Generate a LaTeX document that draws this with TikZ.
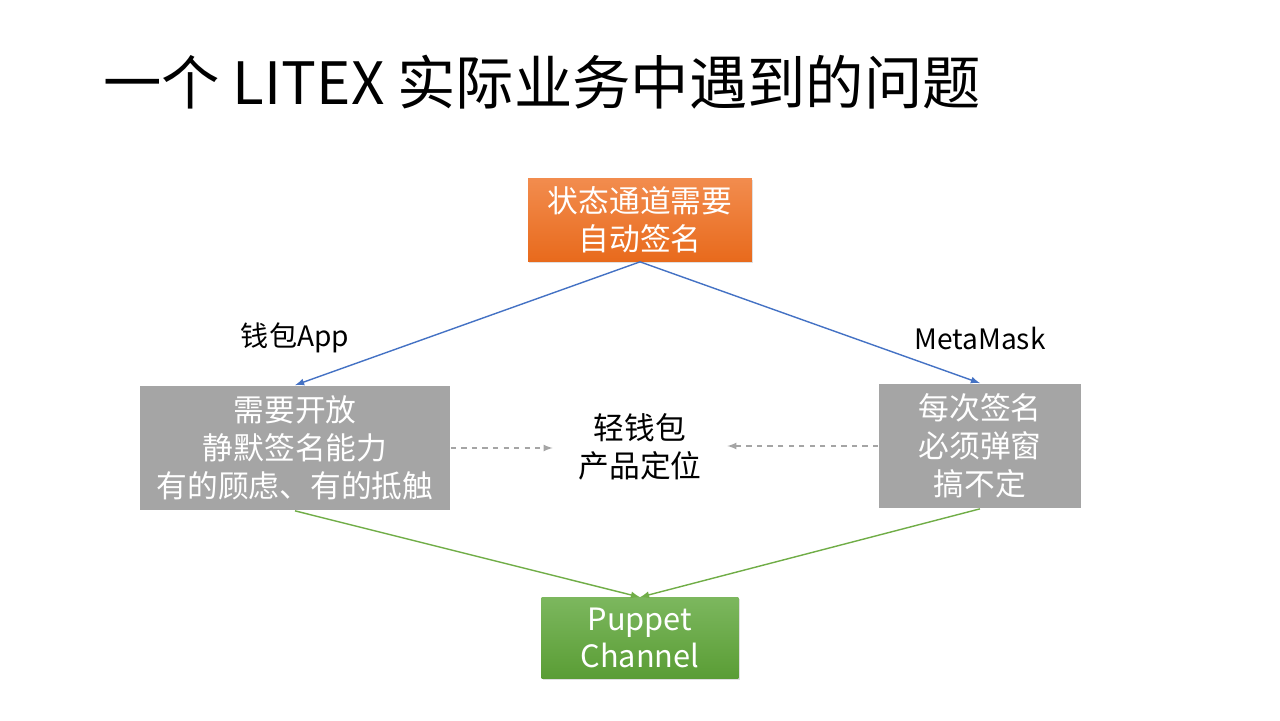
\documentclass[tikz,border=0pt]{standalone}
\usepackage{fontspec}
\setmainfont{Noto Sans CJK SC}
\usepackage{tikz}
\usetikzlibrary{arrows, calc, shadows}

\definecolor{orangeTop}{HTML}{F28C4E}
\definecolor{orangeBot}{HTML}{E86A1C}
\definecolor{greenTop}{HTML}{7CB75E}
\definecolor{greenBot}{HTML}{5A9D35}
\definecolor{boxGray}{HTML}{A5A5A5}
\definecolor{lineBlue}{HTML}{4472C4}
\definecolor{lineGreen}{HTML}{70AD47}

\tikzset{
  boxtext/.style={align=center, text=white, font=\fontsize{17.5pt}{21.5pt}\selectfont},
  graybox/.style={boxtext, fill=boxGray, inner sep=0pt},
  colorbox/.style={boxtext, inner sep=0pt, drop shadow={opacity=0.25, shadow xshift=0.6pt, shadow yshift=-0.8pt}},
  label/.style={font=\fontsize{16pt}{20pt}\selectfont}
}

\begin{document}
\begin{tikzpicture}[x=0.02cm, y=-0.02cm]

%% page
\useasboundingbox (0,0) rectangle (1280,720);

%% Title
\node[anchor=west, font=\fontsize{33.2pt}{38pt}\selectfont] (title) at (97, 82) {一个 LITEX 实际业务中遇到的问题};

%% boxes
\node[colorbox, top color=orangeTop, bottom color=orangeBot, minimum width=4.48cm, minimum height=1.66cm] (auto) at (640, 220) {状态通道需要\\自动签名};
\node[graybox, minimum width=6.22cm, minimum height=2.5cm] (wallet) at (295, 448) {需要开放\\静默签名能力\\有的顾虑、有的抵触};
\node[graybox, minimum width=4.06cm, minimum height=2.5cm] (mask) at (980, 446) {每次签名\\必须弹窗\\搞不定};
\node[align=center, font=\fontsize{17.5pt}{21.5pt}\selectfont, minimum width=3.48cm] (light) at (640, 447) {轻钱包\\产品定位};
\node[colorbox, top color=greenTop, bottom color=greenBot, minimum width=3.94cm, minimum height=1.62cm] (puppet) at (640, 638) {Puppet\\Channel};

%% labels
\node[label] (app) at (295, 338) {钱包App};
\node[label] (meta) at (980, 338) {MetaMask};

%% connectors
\draw[lineBlue, thick, -latex] (auto.south) -- (wallet.north);
\draw[lineBlue, thick, -latex] (auto.south) -- (mask.north);
\draw[lineGreen, thick, -latex] (wallet.south) -- (puppet.north);
\draw[lineGreen, thick, -latex] (mask.south) -- (puppet.north);
\draw[boxGray, thick, dashed, -latex] (wallet.east) -- (light.west |- wallet.east);
\draw[boxGray, thick, dashed, -latex] (mask.west) -- (light.east |- mask.west);

\end{tikzpicture}
\end{document}
